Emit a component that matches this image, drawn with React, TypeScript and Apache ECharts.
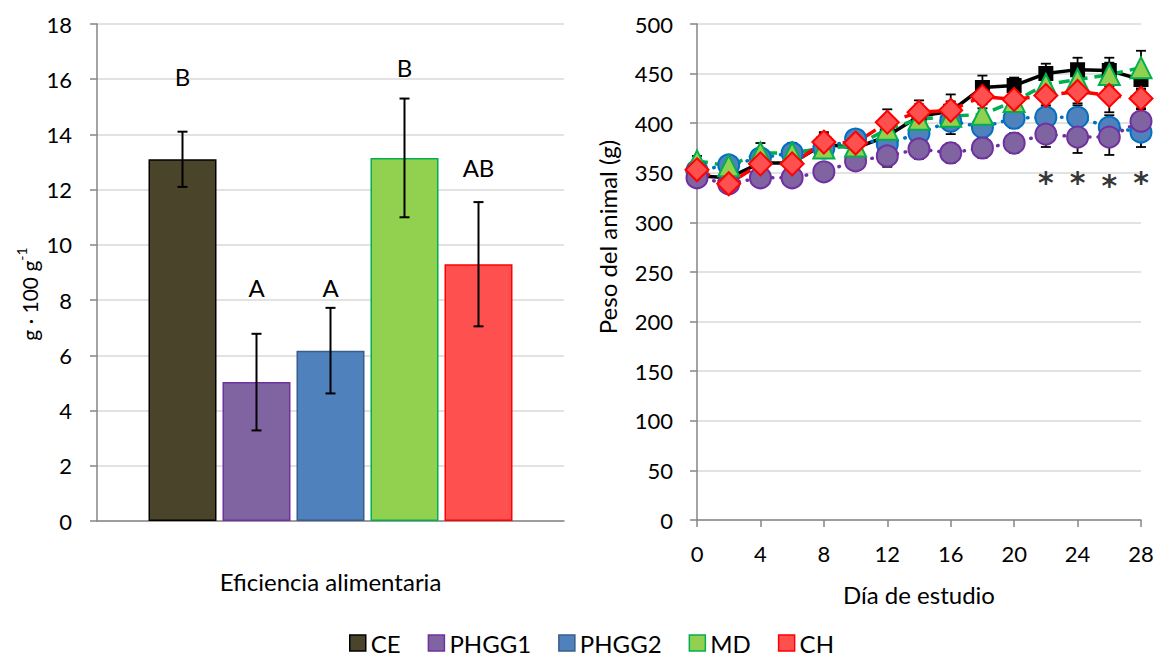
import { useEffect, useRef } from "react";
import * as echarts from "echarts";

// Treatment groups and their colours
const groups = ["CE", "PHGG1", "PHGG2", "MD", "CH"];
const fillColors = ["#4A452A", "#8064A2", "#4F81BD", "#92D050", "#FF5050"];
const edgeColors = ["#000000", "#7030A0", "#385D8A", "#00B050", "#FF0000"];

// Left panel: eficiencia alimentaria (g · 100 g-1), mean ± error
const efficiency = [13.1, 5.03, 6.17, 13.15, 9.3];
const efficiencyErr = [1.0, 1.75, 1.55, 2.15, 2.25];
const letters = ["B", "A", "A", "B", "AB"];
const letterHeights = [16.1, 8.44, 8.44, 16.43, 12.8];

// Right panel: body weight (g) over the study days
const days = [0, 2, 4, 6, 8, 10, 12, 14, 16, 18, 20, 22, 24, 26, 28];
const weightCE = [347, 345, 360, 360, 379, 375, 387, 407, 412, 436, 438, 450, 454, 453, 444];
const weightPHGG1 = [345, 339, 345, 345, 351, 362, 367, 374, 370, 375, 380, 389, 386, 386, 402];
const weightPHGG2 = [352, 358, 365, 370, 375, 384, 379, 390, 402, 396, 405, 406, 406, 396, 391];
const weightMD = [362, 357, 370, 370, 375, 377, 394, 404, 407, 409, 422, 439, 444, 449, 456];
const weightCH = [353, 339, 359, 359, 381, 380, 401, 411, 413, 427, 424, 428, 432, 428, 425];
const errCE = [8, 6, 8, 8, 10, 12, 14, 12, 10, 12, 8, 10, 12, 13, 10];
const errPHGG1 = [8, 6, 8, 8, 8, 8, 11, 10, 10, 10, 10, 13, 16, 18, 12];
const errPHGG2 = [8, 8, 8, 8, 8, 8, 10, 10, 13, 10, 10, 10, 12, 12, 15];
const errMD = [5, 6, 10, 10, 8, 8, 10, 10, 10, 10, 8, 10, 10, 12, 17];
const errCH = [8, 8, 8, 8, 10, 12, 13, 12, 16, 12, 10, 10, 12, 17, 10];

// Significance marks
const starDays = [22, 24, 26, 28];
const starHeights = [340, 340, 337, 340];

const FONT = "Lato, 'Open Sans', sans-serif";
const AXIS_GREY = "#868686";
const GRID_GREY = "#D9D9D9";
const BAR_W = 68;
const BAR_GAP = 6;

function errorBarRenderer(cap: number, width: number, step = 0) {
  return (params: any, api: any) => {
    const x = api.value(0);
    const shift = step ? (api.value(3) - 2) * step : 0;
    const lo = api.coord([x, api.value(1)]);
    const hi = api.coord([x, api.value(2)]);
    const cx = lo[0] + shift;
    const style = { stroke: "#000", lineWidth: width };
    return {
      type: "group",
      children: [
        { type: "line", shape: { x1: cx, y1: lo[1], x2: cx, y2: hi[1] }, style },
        { type: "line", shape: { x1: cx - cap, y1: hi[1], x2: cx + cap, y2: hi[1] }, style },
        { type: "line", shape: { x1: cx - cap, y1: lo[1], x2: cx + cap, y2: lo[1] }, style },
      ],
    };
  };
}

export default function App() {
  const ref = useRef<HTMLDivElement>(null);

  useEffect(() => {
    document.body.style.margin = "0";
    const chart = echarts.init(ref.current!, null, { renderer: "svg" });

    const weights = {
      CE: { v: weightCE, e: errCE },
      PHGG1: { v: weightPHGG1, e: errPHGG1 },
      PHGG2: { v: weightPHGG2, e: errPHGG2 },
      MD: { v: weightMD, e: errMD },
      CH: { v: weightCH, e: errCH },
    } as Record<string, { v: number[]; e: number[] }>;

    const lineLook: Record<string, any> = {
      CE: { symbol: "rect", size: 13, line: { color: "#000", width: 3.5, type: "solid" } },
      PHGG1: { symbol: "circle", size: 21, line: { color: "#7030A0", width: 3.5, type: [0.5, 8], cap: "round" } },
      PHGG2: { symbol: "circle", size: 21, line: { color: "#0070C0", width: 3.5, type: [0.5, 8], cap: "round" } },
      MD: { symbol: "triangle", size: 21, line: { color: "#00B050", width: 3.5, type: [11, 7] } },
      CH: { symbol: "diamond", size: 23, line: { color: "#FF0000", width: 3.5, type: [14, 9] } },
    };
    const drawOrder = ["CE", "PHGG2", "PHGG1", "MD", "CH"];

    const barSeries = groups.map((g, i) => ({
      type: "bar",
      name: g,
      xAxisIndex: 0,
      yAxisIndex: 0,
      data: [efficiency[i]],
      barWidth: BAR_W,
      barGap: `${(BAR_GAP / BAR_W) * 100}%`,
      itemStyle: { color: fillColors[i], borderColor: edgeColors[i], borderWidth: 1.5 },
    }));

    const barErrors = {
      type: "custom",
      xAxisIndex: 0,
      yAxisIndex: 0,
      z: 5,
      renderItem: errorBarRenderer(5, 2, BAR_W + BAR_GAP),
      data: efficiency.map((v, i) => [0, v - efficiencyErr[i], v + efficiencyErr[i], i]),
    };

    const letterSeries = {
      type: "custom",
      xAxisIndex: 0,
      yAxisIndex: 0,
      z: 5,
      renderItem: (params: any, api: any) => {
        const idx = api.value(2);
        const p = api.coord([0, api.value(1)]);
        return {
          type: "text",
          x: p[0] + (idx - 2) * (BAR_W + BAR_GAP),
          y: p[1],
          style: {
            text: letters[idx],
            fontSize: 24,
            fontFamily: FONT,
            fill: "#000",
            align: "center",
            verticalAlign: "middle",
          },
        };
      },
      data: letterHeights.map((h, i) => [0, h, i]),
    };

    const lineSeries: any[] = [];
    drawOrder.forEach((g) => {
      const gi = groups.indexOf(g);
      const look = lineLook[g];
      const w = weights[g];
      lineSeries.push({
        type: "line",
        name: g,
        xAxisIndex: 1,
        yAxisIndex: 1,
        data: days.map((d, k) => [d, w.v[k]]),
        symbol: look.symbol,
        symbolSize: look.size,
        showAllSymbol: true,
        lineStyle: look.line,
        itemStyle: {
          color: g === "CE" ? "#000" : fillColors[gi],
          borderColor: g === "CE" ? "#000" : edgeColors[gi] === "#385D8A" ? "#0070C0" : edgeColors[gi],
          borderWidth: 2,
        },
      });
      lineSeries.push({
        type: "custom",
        name: g + "-err",
        xAxisIndex: 1,
        yAxisIndex: 1,
        renderItem: errorBarRenderer(5, 1.8),
        data: days.map((d, k) => [d, w.v[k] - w.e[k], w.v[k] + w.e[k]]),
      });
    });

    const stars = {
      type: "scatter",
      xAxisIndex: 1,
      yAxisIndex: 1,
      symbolSize: 1,
      itemStyle: { color: "rgba(0,0,0,0)" },
      label: {
        show: true,
        position: "inside",
        formatter: "*",
        fontSize: 30,
        fontWeight: "bold",
        fontFamily: "'DejaVu Sans', sans-serif",
        color: "#000",
      },
      data: starDays.map((d, i) => [d, starHeights[i]]),
    };

    const axisLabelStyle = { fontSize: 22, fontFamily: FONT, color: "#000" };

    chart.setOption({
      animation: false,
      textStyle: { fontFamily: FONT },
      grid: [
        { left: 97, right: 593, top: 24, bottom: 138 },
        { left: 697, right: 16, top: 24, bottom: 139 },
      ],
      xAxis: [
        {
          type: "category",
          gridIndex: 0,
          data: ["Eficiencia alimentaria"],
          axisLine: { lineStyle: { color: AXIS_GREY, width: 1.5 } },
          axisTick: { show: false },
          axisLabel: { fontSize: 24, fontFamily: FONT, color: "#000", margin: 48 },
        },
        {
          type: "value",
          gridIndex: 1,
          min: 0,
          max: 28,
          interval: 4,
          splitLine: { show: false },
          axisLine: { lineStyle: { color: AXIS_GREY, width: 1.5 } },
          axisTick: { show: true, length: 7, lineStyle: { color: AXIS_GREY, width: 1.5 } },
          axisLabel: { ...axisLabelStyle, margin: 22 },
          name: "Día de estudio",
          nameLocation: "middle",
          nameGap: 62,
          nameTextStyle: { fontSize: 24, fontFamily: FONT, color: "#000", verticalAlign: "top" },
        },
      ],
      yAxis: [
        {
          type: "value",
          gridIndex: 0,
          min: 0,
          max: 18,
          interval: 2,
          axisLine: { show: true, lineStyle: { color: AXIS_GREY, width: 1.5 } },
          axisTick: { show: true, length: 7, lineStyle: { color: AXIS_GREY, width: 1.5 } },
          axisLabel: { ...axisLabelStyle, margin: 25 },
          splitLine: { lineStyle: { color: GRID_GREY, width: 1.5 } },
        },
        {
          type: "value",
          gridIndex: 1,
          min: 0,
          max: 500,
          interval: 50,
          axisLine: { show: true, lineStyle: { color: AXIS_GREY, width: 1.5 } },
          axisTick: { show: true, length: 7, lineStyle: { color: AXIS_GREY, width: 1.5 } },
          axisLabel: { ...axisLabelStyle, margin: 24 },
          splitLine: { lineStyle: { color: GRID_GREY, width: 1.5 } },
        },
      ],
      legend: {
        left: 349,
        top: 631,
        padding: 0,
        itemWidth: 16,
        itemHeight: 16,
        itemGap: 27,
        textStyle: { fontSize: 24, fontFamily: FONT, color: "#000" },
        data: groups.map((g, i) => ({
          name: g,
          icon: "rect",
          itemStyle: { color: fillColors[i], borderColor: edgeColors[i], borderWidth: 1.5 },
        })),
      },
      graphic: [
        {
          type: "text",
          x: 27,
          y: 294,
          rotation: Math.PI / 2,
          style: {
            text: "{a|g · 100 g}{b|-1}",
            align: "center",
            verticalAlign: "middle",
            rich: {
              a: { fontSize: 21, fontFamily: FONT, fill: "#000", lineHeight: 25, verticalAlign: "bottom" },
              b: { fontSize: 14, fontFamily: FONT, fill: "#000", lineHeight: 15, verticalAlign: "top" },
            },
          },
        },
        {
          type: "text",
          x: 607,
          y: 237,
          rotation: Math.PI / 2,
          style: {
            text: "Peso del animal (g)",
            align: "center",
            verticalAlign: "middle",
            fontSize: 24,
            fontFamily: FONT,
            fill: "#000",
          },
        },
      ],
      series: [...barSeries, barErrors, letterSeries, ...lineSeries, stars],
    });

    return () => chart.dispose();
  }, []);

  return (
    <div
      ref={ref}
      style={{ position: "fixed", left: 0, top: 0, width: 1157, height: 659, background: "#fff" }}
    />
  );
}
